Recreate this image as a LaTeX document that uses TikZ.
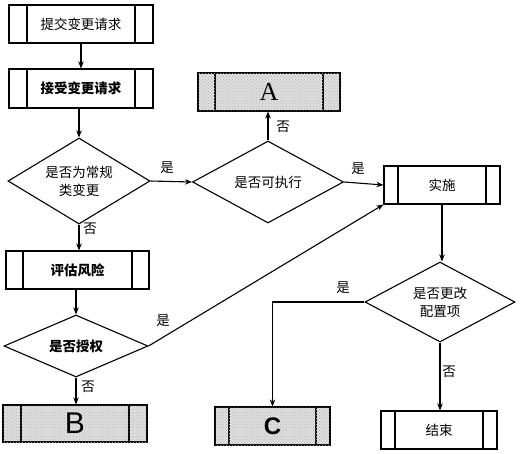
\documentclass[tikz,border=0pt]{standalone}
\usepackage{fontspec}
\setmainfont{Liberation Sans}
\newfontfamily\cjk{Noto Sans CJK SC}
\newfontfamily\serifA{Liberation Serif}
\usetikzlibrary{shapes.geometric,arrows.meta,patterns}
\begin{document}
\begin{tikzpicture}[x=1pt,y=-1pt,
  every node/.style={font=\fontsize{13.5}{18}\selectfont\cjk},
  arr/.style={line width=1.1pt,-{Stealth[length=7pt,width=5.5pt]}},
  sub/.style={draw,line width=1.1pt,inner sep=0pt,
    path picture={
      \draw[line width=1.1pt] ([xshift=#1]path picture bounding box.north west) -- ([xshift=#1]path picture bounding box.south west);
      \draw[line width=1.1pt] ([xshift=-#1]path picture bounding box.north east) -- ([xshift=-#1]path picture bounding box.south east);
    }},
  shaded/.style={fill=gray!26,postaction={pattern=crosshatch dots,pattern color=gray!55}},
  dec/.style={draw,line width=1.1pt,shape=diamond,inner sep=0pt,align=center},
  lab/.style={font=\fontsize{13.5}{16}\selectfont\cjk}
]
\useasboundingbox (0,0) rectangle (520,453);
\fill[white] (0,0) rectangle (520,453);

% process boxes
\node[sub=18pt,minimum width=144pt,minimum height=38pt] (b1) at (81,24) {提交变更请求};
\node[sub=18pt,minimum width=144pt,minimum height=39pt] (b2) at (81,88.5) {\bfseries 接受变更请求};
\node[sub=17pt,minimum width=143pt,minimum height=38pt] (b3) at (77.5,270) {\bfseries 评估风险};
\node[sub=18pt,shaded,minimum width=144pt,minimum height=37pt,font=\fontsize{30}{30}\selectfont] (bB) at (75,423.5) {B};
\node[sub=17pt,shaded,minimum width=142pt,minimum height=38pt,font=\fontsize{26}{26}\selectfont\serifA] (bA) at (269,92) {A};
\node[sub=14pt,minimum width=116pt,minimum height=38pt] (impl) at (442,185) {实施};
\node[sub=14pt,shaded,minimum width=115pt,minimum height=38pt,font=\fontsize{24}{24}\selectfont\bfseries] (bC) at (272.5,426) {C};
\node[sub=14pt,minimum width=116pt,minimum height=38pt] (bend) at (439,430) {结束};

% decisions
\node[dec,aspect=1.65,minimum width=142pt,minimum height=86pt] (d1) at (79,181) {是否为常规\\类变更};
\node[dec,aspect=2.3,minimum width=144pt,minimum height=62pt] (d2) at (76,346) {\bfseries 是否授权};
\node[dec,aspect=1.85,minimum width=151pt,minimum height=82pt] (d3) at (268,182) {是否可执行};
\node[dec,aspect=1.85,minimum width=150pt,minimum height=80pt] (d4) at (440,302) {是否更改\\配置项};

% connectors
\draw[arr] (b1.south) -- (b2.north);
\draw[arr] (d1.north |- b2.south) -- (d1.north);
\draw[arr] (d1.east) -- (d3.west);
\draw[arr] (d3.north) -- (d3.north |- bA.south);
\draw[arr] (d3.east) -- (impl.west);
\draw[arr] (d1.south) -- (d1.south |- b3.north);
\draw[arr] (d2.north |- b3.south) -- (d2.north);
\draw[arr] (d2.east) -- (impl.south west);
\draw[arr] (d2.south) -- (d2.south |- bB.north);
\draw[arr] (impl.south) -- (impl.south |- d4.north);
\draw[arr] (d4.west) -| (bC.north);
\draw[arr] (d4.south) -- (d4.south |- bend.north);

% labels
\node[lab] (l1) at (167,168) {是};
\node[lab] (l2) at (283,127) {否};
\node[lab] (l3) at (358,169) {是};
\node[lab] (l4) at (90,229) {否};
\node[lab] (l5) at (163,321) {是};
\node[lab] (l6) at (88,387) {否};
\node[lab] (l7) at (343,288) {是};
\node[lab] (l8) at (449,372) {否};
\end{tikzpicture}
\end{document}
